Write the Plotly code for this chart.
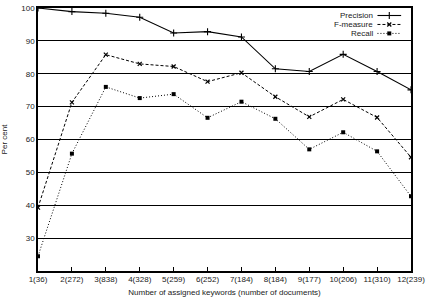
import plotly.graph_objects as go

x_vals = list(range(1, 13))
x_labels = ["1(36)", "2(272)", "3(838)", "4(328)", "5(259)", "6(252)", "7(184)",
            "8(184)", "9(177)", "10(206)", "11(310)", "12(239)"]
precision = [100.0, 98.9, 98.4, 97.2, 92.4, 92.8, 91.2, 81.5, 80.7, 85.9, 80.7, 75.1]
f_measure = [39.3, 71.3, 85.8, 83.0, 82.2, 77.6, 80.3, 73.0, 66.9, 72.2, 66.7, 54.6]
recall = [24.5, 55.7, 76.0, 72.6, 73.8, 66.6, 71.5, 66.3, 57.0, 62.2, 56.4, 42.7]
y_ticks = [30, 40, 50, 60, 70, 80, 90, 100]
series_names = ["Precision", "F-measure", "Recall"]

font = dict(family="Liberation Sans, Arial, sans-serif", size=8, color="#222")

styles = [
    dict(line=dict(color="black", width=1.1),
         marker=dict(symbol="cross-thin", size=5, line=dict(color="black", width=1.1))),
    dict(line=dict(color="black", width=1, dash="3px,2px"),
         marker=dict(symbol="x-thin", size=4, line=dict(color="black", width=1.2))),
    dict(line=dict(color="black", width=1, dash="1px,2px"),
         marker=dict(symbol="square", size=4, color="black")),
]

fig = go.Figure()
for name, vals, st in zip(series_names, [precision, f_measure, recall], styles):
    fig.add_trace(go.Scatter(x=x_vals, y=vals, name=name, mode="lines+markers",
                             line=st["line"], marker=st["marker"], showlegend=False))

# custom legend (text on the left, sample on the right), in pixel coordinates on an overlay axis
leg_rows = [12.2, 21.4, 30.6]
for name, st, yy in zip(series_names, styles, leg_rows):
    fig.add_trace(go.Scatter(x=[381, 405], y=[yy, yy], xaxis="x2", yaxis="y2", mode="lines",
                             line=st["line"], showlegend=False, hoverinfo="skip"))
    fig.add_trace(go.Scatter(x=[393], y=[yy], xaxis="x2", yaxis="y2", mode="markers",
                             marker=st["marker"], showlegend=False, hoverinfo="skip"))
    fig.add_annotation(x=377, y=yy, xref="x2", yref="y2", text=name, showarrow=False,
                       xanchor="right", yanchor="middle", font=dict(size=8),
                       borderpad=0, valign="middle")

fig.update_layout(
    width=429, height=300,
    margin=dict(l=37, r=14, t=4, b=25),
    paper_bgcolor="white", plot_bgcolor="white",
    font=font,
    showlegend=False,
    xaxis=dict(range=[1, 12], tickvals=x_vals, ticktext=x_labels,
               showgrid=False, zeroline=False,
               showline=True, linecolor="black", linewidth=1.5, mirror=True,
               ticks="inside", ticklen=4, tickcolor="black",
               tickfont=dict(size=8), ticklabeloverflow="allow",
               title=dict(text="Number of assigned keywords (number of documents)",
                          font=dict(size=8), standoff=6)),
    yaxis=dict(range=[20, 100], tickvals=y_ticks,
               showgrid=True, gridcolor="black", gridwidth=1.3, zeroline=False,
               showline=True, linecolor="black", linewidth=1.5, mirror=True,
               ticks="inside", ticklen=4, tickcolor="black",
               tickfont=dict(size=8),
               title=dict(text="Per cent", font=dict(size=8), standoff=12)),
    xaxis2=dict(domain=[0, 1], anchor="y2", range=[37, 415], visible=False, overlaying="x"),
    yaxis2=dict(domain=[0, 1], anchor="x2", range=[274.5, 4.5], visible=False, overlaying="y"),
)

fig.write_html("out.html")
